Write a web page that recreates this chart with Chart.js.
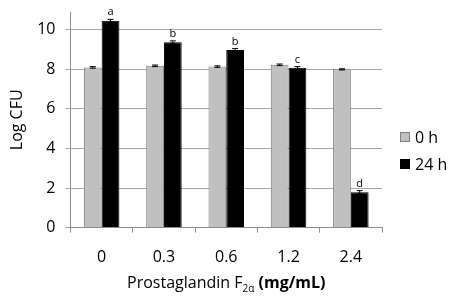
<!DOCTYPE html>
<html>
<head>
<meta charset="utf-8">
<script src="https://cdn.jsdelivr.net/npm/chart.js@4.4.0/dist/chart.umd.min.js"></script>
<style>
body { margin: 0; background: #fff; }
#wrap { width: 452px; height: 305px; }
</style>
</head>
<body>
<div id="wrap"><canvas id="cfu-chart"></canvas></div>
<script>
const doses = ['0', '0.3', '0.6', '1.2', '2.4'];
const cfu0h = [8.10, 8.18, 8.14, 8.23, 8.00];
const cfu24h = [10.46, 9.37, 8.98, 8.08, 1.79];
const err0h = [0.04, 0.04, 0.04, 0.04, 0.03];
const err24h = [0.07, 0.07, 0.07, 0.06, 0.08];
const letters24h = ['a', 'b', 'b', 'c', 'd'];
const yTicks = [0, 2, 4, 6, 8, 10];
const seriesNames = ['0 h', '24 h'];
const seriesFill = ['#c0c0c0', '#000'];
const seriesEdge = ['#7f7f7f', '#000'];

const FONT = "'Open Sans', sans-serif";

// error bars + significance letters, drawn on top of the bars
const errorBars = {
    id: 'errorBars',
    afterDatasetsDraw(chart) {
        const ctx = chart.ctx;
        const y = chart.scales.y;
        [err0h, err24h].forEach((errs, di) => {
            const meta = chart.getDatasetMeta(di);
            meta.data.forEach((bar, i) => {
                const v = chart.data.datasets[di].data[i];
                const top = y.getPixelForValue(v + errs[i]);
                const bot = y.getPixelForValue(v - errs[i]);
                ctx.save();
                ctx.strokeStyle = '#000';
                ctx.lineWidth = 1;
                ctx.beginPath();
                ctx.moveTo(bar.x, top); ctx.lineTo(bar.x, bot);
                ctx.moveTo(bar.x - 3, top); ctx.lineTo(bar.x + 3, top);
                ctx.moveTo(bar.x - 3, bot); ctx.lineTo(bar.x + 3, bot);
                ctx.stroke();
                if (di === 1) {
                    ctx.fillStyle = '#000';
                    ctx.font = '11px ' + FONT;
                    ctx.textAlign = 'center';
                    ctx.textBaseline = 'middle';
                    ctx.fillText(letters24h[i], bar.x, top - 7);
                }
                ctx.restore();
            });
        });
    }
};

// x title with subscript and bold units, plus the legend on the right
const extras = {
    id: 'extras',
    afterDraw(chart) {
        const ctx = chart.ctx;
        const area = chart.chartArea;
        const parts = [
            { t: 'Prostaglandin F', f: '16px ' + FONT, dy: 0 },
            { t: '2\u03b1', f: '10px ' + FONT, dy: 4 },
            { t: ' (mg/mL)', f: 'bold 16px ' + FONT, dy: 0 }
        ];
        ctx.save();
        let w = 0;
        parts.forEach(p => { ctx.font = p.f; w += ctx.measureText(p.t).width; });
        let x = (area.left + area.right) / 2 - w / 2;
        const yb = 288;
        ctx.fillStyle = '#000';
        ctx.textBaseline = 'alphabetic';
        parts.forEach(p => {
            ctx.font = p.f;
            ctx.fillText(p.t, x, yb + p.dy);
            x += ctx.measureText(p.t).width;
        });

        // legend
        const lx = area.right + 18;
        const cy = chart.height / 2 - 2;
        ctx.font = '16px ' + FONT;
        ctx.textBaseline = 'middle';
        seriesNames.forEach((name, i) => {
            const yy = cy + (i - 0.5) * 27;
            ctx.fillStyle = seriesFill[i];
            ctx.fillRect(lx, yy - 5, 10, 10);
            ctx.strokeStyle = seriesEdge[i];
            ctx.lineWidth = 1;
            ctx.strokeRect(lx + 0.5, yy - 4.5, 9, 9);
            ctx.fillStyle = '#000';
            ctx.fillText(name, lx + 15, yy + 1);
        });
        ctx.restore();
    }
};

new Chart(document.getElementById('cfu-chart'), {
    type: 'bar',
    data: {
        labels: doses,
        datasets: seriesNames.map((name, i) => ({
            label: name,
            data: i === 0 ? cfu0h : cfu24h,
            backgroundColor: seriesFill[i],
            borderColor: seriesEdge[i],
            borderWidth: 1
        }))
    },
    options: {
        responsive: true,
        maintainAspectRatio: false,
        animation: false,
        layout: { padding: { left: 1, right: 70, top: 12, bottom: 2 } },
        datasets: {
            bar: { categoryPercentage: 0.57, barPercentage: 1.0 }
        },
        plugins: {
            legend: { display: false },
            tooltip: { enabled: false }
        },
        scales: {
            x: {
                grid: {
                    drawOnChartArea: false,
                    drawTicks: true,
                    tickLength: 5,
                    color: '#8c8c8c'
                },
                border: { color: '#8c8c8c' },
                ticks: {
                    color: '#000',
                    padding: 15,
                    font: { family: FONT, size: 16 }
                },
                title: {
                    display: true,
                    text: 'Prostaglandin F2\u03b1 (mg/mL)',
                    color: 'rgba(0,0,0,0)',
                    font: { family: FONT, size: 16 },
                    padding: { top: 1, bottom: 1 }
                }
            },
            y: {
                min: 0,
                max: 10.9,
                afterBuildTicks: s => { s.ticks = yTicks.map(v => ({ value: v })); },
                afterFit: s => { s.paddingTop = 0; s.paddingBottom = 0; },
                grid: {
                    color: '#a6a6a6',
                    tickLength: 5
                },
                border: { color: '#8c8c8c' },
                ticks: {
                    color: '#000',
                    padding: 10,
                    font: { family: FONT, size: 16 }
                },
                title: {
                    display: true,
                    text: 'Log CFU',
                    color: '#000',
                    font: { family: FONT, size: 16 },
                    padding: { top: 7, bottom: 0 }
                }
            }
        }
    },
    plugins: [errorBars, extras]
});
</script>
</body>
</html>
